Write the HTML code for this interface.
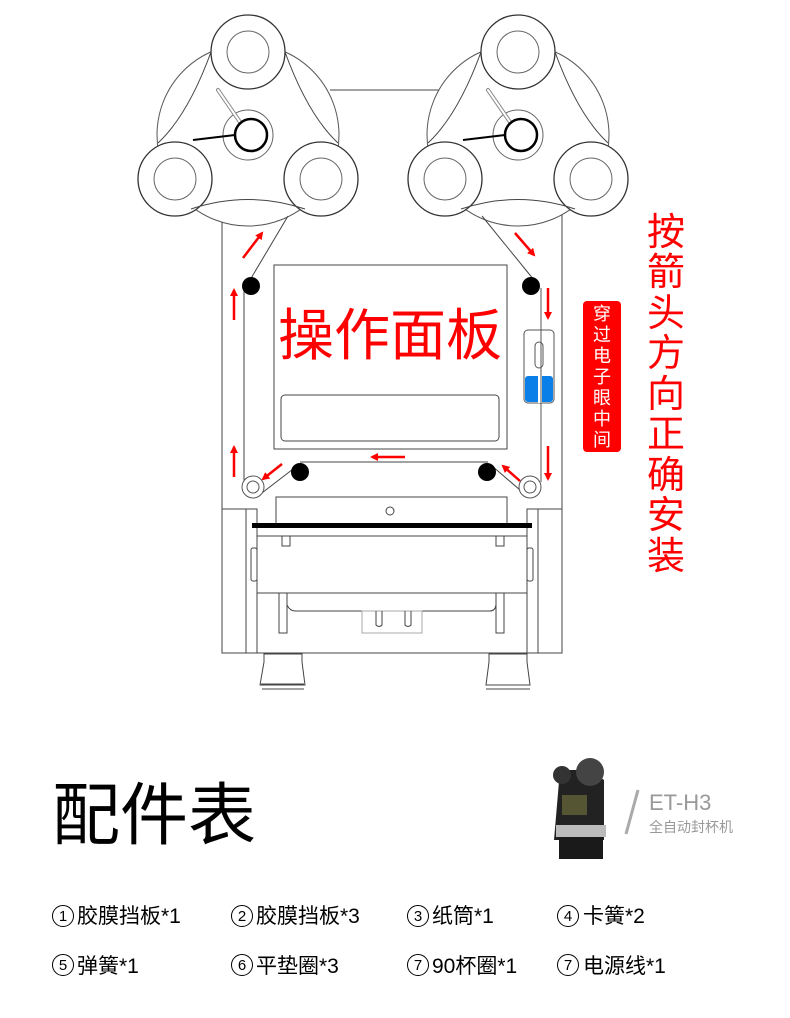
<!DOCTYPE html>
<html><head><meta charset="utf-8"><style>
html,body{margin:0;padding:0;background:#fff;}
svg{display:block;}
text{font-family:"Liberation Sans","Noto Sans CJK SC",sans-serif;}
</style></head><body>
<svg width="790" height="1018" viewBox="0 0 790 1018" xmlns="http://www.w3.org/2000/svg">
<defs>
<marker id="ah" markerWidth="8" markerHeight="8" refX="6" refY="4" orient="auto" markerUnits="userSpaceOnUse">
<path d="M0,0 L8,4 L0,8 z" fill="#f00"/></marker>
<g id="reel">
<circle cx="0" cy="0" r="91" fill="#fff" stroke="#555" stroke-width="1"/>
<circle cx="0" cy="-83" r="37" fill="#fff" stroke="#333" stroke-width="1.3"/>
<circle cx="0" cy="-83" r="21" fill="none" stroke="#666" stroke-width="1"/>
<circle cx="-73" cy="44" r="37" fill="#fff" stroke="#333" stroke-width="1.3"/>
<circle cx="-73" cy="44" r="21" fill="none" stroke="#666" stroke-width="1"/>
<circle cx="73" cy="44" r="37" fill="#fff" stroke="#333" stroke-width="1.3"/>
<circle cx="73" cy="44" r="21" fill="none" stroke="#666" stroke-width="1"/>
<path d="M-37,-83 Q-60,-20 -90,8 M37,-83 Q60,-20 90,8 M-57,74 Q0,55 57,74" fill="none" stroke="#444" stroke-width="1"/>
<circle cx="0" cy="0" r="25" fill="none" stroke="#666" stroke-width="1"/>
<path d="M-30,-45 L-8,-13" stroke="#888" stroke-width="4" stroke-linecap="round"/>
<path d="M-30,-45 L-8,-13" stroke="#fff" stroke-width="2" stroke-linecap="round"/>
<line x1="-55" y1="5" x2="-13" y2="0" stroke="#000" stroke-width="2"/>
<circle cx="3" cy="0" r="16" fill="#fff" stroke="#000" stroke-width="2.5"/>
</g>
</defs>
<rect width="790" height="1018" fill="#fff"/>
<g fill="none" stroke="#444" stroke-width="1">
<line x1="330" y1="90" x2="440" y2="90"/>
<line x1="222" y1="200" x2="222" y2="653"/>
<line x1="562" y1="200" x2="562" y2="653"/>
</g>
<use href="#reel" x="248" y="135"/>
<use href="#reel" x="518" y="135"/>
<g fill="none" stroke="#444" stroke-width="1">
<rect x="274" y="265" width="233" height="184"/>
<rect x="281" y="395" width="218" height="46" rx="4"/>
<line x1="288" y1="216" x2="250" y2="280"/>
<line x1="482" y1="216" x2="534" y2="280"/>
<line x1="244" y1="288" x2="244" y2="482"/>
<line x1="541" y1="288" x2="541" y2="482"/>
<line x1="258" y1="496" x2="297" y2="466"/>
<line x1="527" y1="496" x2="492" y2="466"/>
<line x1="300" y1="462" x2="488" y2="462"/>
</g>
<rect x="524" y="330" width="30" height="73" rx="4" fill="#fff" stroke="#555"/>
<rect x="525" y="376" width="28" height="26" rx="3" fill="#0a7fe8"/>
<line x1="540" y1="376" x2="540" y2="403" stroke="#fff" stroke-width="4"/>
<rect x="535" y="342" width="8" height="26" rx="4" fill="#fff" stroke="#555"/>
<line x1="541" y1="288" x2="541" y2="482" stroke="#555"/>
<circle cx="251" cy="286" r="9" fill="#000"/>
<circle cx="531" cy="286" r="9" fill="#000"/>
<circle cx="300" cy="472" r="9" fill="#000"/>
<circle cx="487" cy="472" r="9" fill="#000"/>
<circle cx="253" cy="487" r="11" fill="#fff" stroke="#555"/>
<circle cx="253" cy="487" r="6" fill="none" stroke="#555"/>
<circle cx="530" cy="487" r="11" fill="#fff" stroke="#555"/>
<circle cx="530" cy="487" r="6" fill="none" stroke="#555"/>
<g fill="none" stroke="#444" stroke-width="1">
<rect x="276" y="497" width="231" height="28"/>
<circle cx="390" cy="511" r="4"/>
<rect x="222" y="509" width="35" height="144"/>
<line x1="246" y1="509" x2="246" y2="653"/>
<rect x="527" y="509" width="35" height="144"/>
<line x1="538" y1="509" x2="538" y2="653"/>
<line x1="257" y1="536" x2="527" y2="536"/>
<line x1="257" y1="593" x2="527" y2="593"/>
<line x1="257" y1="653" x2="527" y2="653"/>
<rect x="251" y="548" width="6" height="33" rx="2"/>
<rect x="527" y="548" width="6" height="33" rx="2"/>
<rect x="279" y="593" width="8" height="40"/>
<rect x="496" y="593" width="8" height="40"/>
<path d="M287,605 Q290,611 295,611 L490,611 Q495,611 496,605"/>
<rect x="362" y="611" width="60" height="22" stroke="#aaa"/>
<path d="M376,611 V625 Q379,628 382,625 V611 M405,611 V625 Q408,628 411,625 V611"/>
<rect x="282" y="536" width="8" height="10"/>
<rect x="496" y="536" width="8" height="10"/>
<path d="M264,654 H302 V662 L305,685 H260 L264,662 Z"/>
<line x1="261" y1="684" x2="304" y2="684"/><line x1="262" y1="689" x2="304" y2="689"/>
<path d="M489,654 H527 V662 L530,685 H486 L489,662 Z"/>
<line x1="486" y1="689" x2="530" y2="689"/>
</g>
<rect x="252" y="523" width="280" height="5" fill="#000"/>
<g stroke="#f00" stroke-width="2.5" fill="none" marker-end="url(#ah)">
<line x1="243" y1="258" x2="262" y2="233"/>
<line x1="515" y1="233" x2="534" y2="255"/>
<line x1="234" y1="320" x2="234" y2="290"/>
<line x1="548" y1="288" x2="548" y2="318"/>
<line x1="234" y1="477" x2="234" y2="447"/>
<line x1="548" y1="446" x2="548" y2="479"/>
<line x1="405" y1="457" x2="372" y2="457"/>
<line x1="282" y1="464" x2="263" y2="479"/>
<line x1="520" y1="481" x2="503" y2="466"/>
</g>
<text x="390" y="355" font-size="56" fill="#f00" text-anchor="middle">操作面板</text>
<rect x="583" y="301" width="38" height="151" rx="4" fill="#f00"/>
<g font-size="18" fill="#fff" text-anchor="middle">
<text x="602" y="320">穿</text><text x="602" y="341">过</text><text x="602" y="362">电</text><text x="602" y="383">子</text><text x="602" y="404">眼</text><text x="602" y="425">中</text><text x="602" y="446">间</text>
</g>
<g font-size="38" fill="#f00" text-anchor="middle">
<text x="666" y="245">按</text><text x="666" y="285">箭</text><text x="666" y="326">头</text><text x="666" y="366">方</text><text x="666" y="407">向</text><text x="666" y="447">正</text><text x="666" y="488">确</text><text x="666" y="528">安</text><text x="666" y="569">装</text>
</g>
<text x="52" y="839" font-size="68" fill="#000">配件表</text>
<g>
<path d="M560,770 h30 l14,10 v60 h-50 z" fill="#222"/>
<circle cx="562" cy="775" r="9" fill="#333"/>
<circle cx="590" cy="772" r="14" fill="#444"/>
<rect x="562" y="795" width="25" height="20" fill="#553"/>
<rect x="556" y="825" width="50" height="12" fill="#bbb"/>
<rect x="559" y="837" width="44" height="22" fill="#1a1a1a"/>
</g>
<line x1="638" y1="790" x2="626" y2="834" stroke="#aaa" stroke-width="3"/>
<text x="649" y="810" font-size="22" fill="#999">ET-H3</text>
<text x="649" y="832" font-size="14" fill="#999">全自动封杯机</text>
<g font-size="21" fill="#000">
<text x="77" y="923">胶膜挡板*1</text>
<text x="256" y="923">胶膜挡板*3</text>
<text x="432" y="923">纸筒*1</text>
<text x="583" y="923">卡簧*2</text>
<text x="77" y="973">弹簧*1</text>
<text x="256" y="973">平垫圈*3</text>
<text x="432" y="973">90杯圈*1</text>
<text x="583" y="973">电源线*1</text>
</g>
<g fill="none" stroke="#000" stroke-width="1">
<circle cx="63" cy="916" r="10.5"/><circle cx="242" cy="916" r="10.5"/><circle cx="418" cy="916" r="10.5"/><circle cx="568" cy="916" r="10.5"/>
<circle cx="63" cy="965" r="10.5"/><circle cx="242" cy="965" r="10.5"/><circle cx="418" cy="965" r="10.5"/><circle cx="568" cy="965" r="10.5"/>
</g>
<g font-size="15" fill="#000" text-anchor="middle" style="font-family:'Liberation Serif',serif">
<text x="63" y="921">1</text><text x="242" y="921">2</text><text x="418" y="921">3</text><text x="568" y="921">4</text>
<text x="63" y="970">5</text><text x="242" y="970">6</text><text x="418" y="970">7</text><text x="568" y="970">7</text>
</g>
</svg>
</body></html>
